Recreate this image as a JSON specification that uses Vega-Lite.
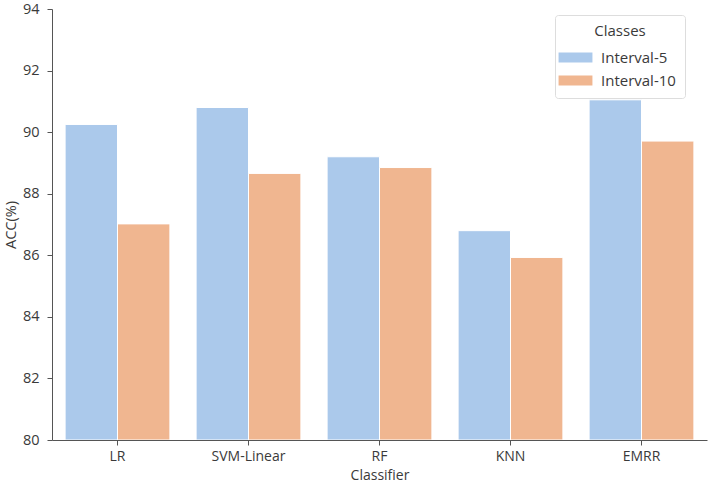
{
  "$schema": "https://vega.github.io/schema/vega-lite/v6.json",
  "width": 655,
  "height": 431,
  "autosize": {"type": "none"},
  "padding": {"left": 52, "top": 9, "right": 2, "bottom": 42},
  "background": "white",
  "data": {
    "values": [
      {"Classifier": "LR", "Classes": "Interval-5", "ACC": 90.25},
      {"Classifier": "LR", "Classes": "Interval-10", "ACC": 87.02},
      {"Classifier": "SVM-Linear", "Classes": "Interval-5", "ACC": 90.8},
      {"Classifier": "SVM-Linear", "Classes": "Interval-10", "ACC": 88.66},
      {"Classifier": "RF", "Classes": "Interval-5", "ACC": 89.2},
      {"Classifier": "RF", "Classes": "Interval-10", "ACC": 88.85},
      {"Classifier": "KNN", "Classes": "Interval-5", "ACC": 86.8},
      {"Classifier": "KNN", "Classes": "Interval-10", "ACC": 85.93},
      {"Classifier": "EMRR", "Classes": "Interval-5", "ACC": 91.05},
      {"Classifier": "EMRR", "Classes": "Interval-10", "ACC": 89.71}
    ]
  },
  "config": {
    "view": {"stroke": null},
    "font": "Open Sans"
  },
  "mark": {"type": "bar", "clip": true, "stroke": "white", "strokeWidth": 1},
  "encoding": {
    "x": {
      "field": "Classifier",
      "type": "nominal",
      "sort": ["LR", "SVM-Linear", "RF", "KNN", "EMRR"],
      "scale": {"paddingInner": 0.2, "paddingOuter": 0.1},
      "axis": {
        "labelAngle": 0,
        "labelFontSize": 14,
        "labelColor": "#3a3a3a",
        "labelPadding": 4,
        "titleFontSize": 14,
        "titleFontWeight": "normal",
        "titleColor": "#3a3a3a",
        "titlePadding": 5,
        "domainColor": "#555555",
        "tickColor": "#555555",
        "tickSize": 5
      }
    },
    "xOffset": {
      "field": "Classes",
      "type": "nominal",
      "sort": ["Interval-5", "Interval-10"],
      "scale": {"paddingInner": 0, "paddingOuter": 0}
    },
    "y": {
      "field": "ACC",
      "type": "quantitative",
      "scale": {"domain": [80, 94], "zero": false, "nice": false},
      "title": "ACC(%)",
      "axis": {
        "values": [80, 82, 84, 86, 88, 90, 92, 94],
        "grid": false,
        "labelFontSize": 14.5,
        "labelColor": "#3a3a3a",
        "labelPadding": 8,
        "titleFontSize": 14.5,
        "titleFontWeight": "normal",
        "titleColor": "#3a3a3a",
        "titlePadding": 4,
        "domainColor": "#555555",
        "tickColor": "#555555",
        "tickSize": 5
      }
    },
    "y2": {"datum": 80},
    "color": {
      "field": "Classes",
      "type": "nominal",
      "sort": ["Interval-5", "Interval-10"],
      "scale": {"domain": ["Interval-5", "Interval-10"], "range": ["#abc9eb", "#f0b690"]},
      "legend": {
        "orient": "none",
        "legendX": 503,
        "legendY": 6,
        "title": "Classes",
        "titleAnchor": "middle",
        "titleFontSize": 15,
        "titleFontWeight": "normal",
        "titleColor": "#3a3a3a",
        "titlePadding": 7,
        "labelFontSize": 15,
        "labelColor": "#3a3a3a",
        "labelOffset": 14,
        "symbolType": "M-1.5,-0.45H1.5V0.45H-1.5Z",
        "symbolSize": 510,
        "symbolStrokeWidth": 0,
        "symbolOpacity": 1,
        "rowPadding": 3,
        "strokeColor": "#dddddd",
        "cornerRadius": 3,
        "padding": 9,
        "fillColor": "white"
      }
    }
  }
}
